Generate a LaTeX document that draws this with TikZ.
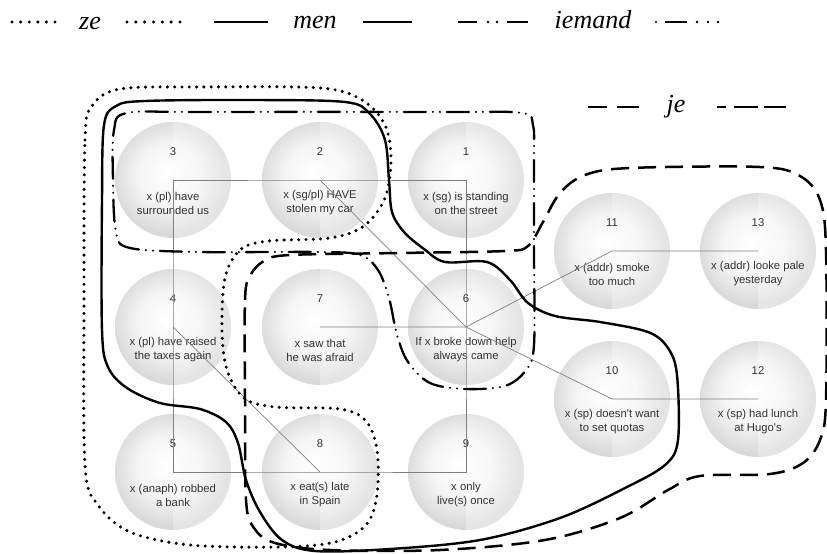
\documentclass[tikz,border=0pt]{standalone}
\usepackage{fontspec}
\setmainfont{Liberation Serif}
\setsansfont{Liberation Sans}
\usetikzlibrary{calc}

% soft grey sphere used for every statement
\pgfdeclareradialshading{orb}{\pgfpoint{-3bp}{3bp}}{color(0bp)=(white); color(13bp)=(black!4); color(25bp)=(black!15); color(50bp)=(black!15)}

\tikzset{
  orbnode/.style={circle, minimum size=116pt, inner sep=0pt, shading=orb},
  numtext/.style={font=\sffamily\fontsize{11.3}{13}\selectfont, text=black!80},
  captext/.style={font=\sffamily\fontsize{11.3}{14}\selectfont, text=black!80, align=center},
  link/.style={draw=black!50, line width=0.7pt},
  zeline/.style={line width=3.4pt, dash pattern=on 0pt off 7.3pt, line cap=round},
  menline/.style={line width=2.4pt},
  iemandline/.style={line width=2.3pt, line cap=round, dash pattern=on 22pt off 7pt on 0pt off 7pt on 0pt off 7pt},
  jeline/.style={line width=2.5pt, dash pattern=on 18pt off 9pt},
  legendline/.style={line width=2.7pt},
  legendtext/.style={font=\fontsize{26}{30}\selectfont\itshape, anchor=base, inner sep=0pt}
}

% name, x, y, number, caption
\newcommand\placeorb[5]{%
  \node[orbnode] (#1) at (#2,#3) {};
  \begin{scope}
    \clip ($(#1)+(0,-60)$) rectangle ($(#1)+(60,60)$);
    \fill[white, opacity=0.3] (#1) circle[radius=58pt];
  \end{scope}
  \node[numtext] (#1-num) at ($(#1)+(0,-28)$) {#4};
  \node[captext] (#1-txt) at ($(#1)+(0,23)$) {#5};
}

\begin{document}
\begin{tikzpicture}[x=1pt, y=-1pt]
\useasboundingbox[fill=white] (0,0) rectangle (827,554);

% statements
\placeorb{c3}{173}{180}{3}{x (pl) have\\surrounded us}
\placeorb{c2}{320}{180}{2}{x (sg/pl) HAVE\\stolen my car}
\placeorb{c1}{466}{180}{1}{x (sg) is standing\\on the street}
\placeorb{c4}{173}{327}{4}{x (pl) have raised\\the taxes again}
\placeorb{c7}{320}{327}{7}{x saw that\\he was afraid}
\placeorb{c6}{466}{327}{6}{If x broke down help\\always came}
\placeorb{c5}{173}{472}{5}{x (anaph) robbed\\a bank}
\placeorb{c8}{320}{472}{8}{x eat(s) late\\in Spain}
\placeorb{c9}{466}{472}{9}{x only\\live(s) once}
\placeorb{c11}{612}{251}{11}{x (addr) smoke\\too much}
\placeorb{c13}{758}{251}{13}{x (addr) looke pale\\yesterday}
\placeorb{c10}{612}{399}{10}{x (sp) doesn\textquotesingle t want\\to set quotas}
\placeorb{c12}{758}{399}{12}{x (sp) had lunch\\at Hugo\textquotesingle s}

% links between statements
\draw[link] (c3.center) -- (c2.center) -- (c1.center) -- (c6.center) -- (c9.center)
            -- (c8.center) -- (c5.center) -- (c4.center) -- cycle;
\draw[link] (c2.center) -- (c6.center);
\draw[link] (c4.center) -- (c8.center);
\draw[link] (c7.center) -- (c6.center) -- (c11.center) -- (c13.center);
\draw[link] (c6.center) -- (c10.center) -- (c12.center);

% ze
\draw[zeline] plot[smooth cycle, tension=0.55] coordinates {
  (84,300) (85,140) (92,106) (120,89) (200,87) (320,88) (362,100) (385,125)
  (391,160) (385,198) (364,226) (330,238) (268,241) (240,250) (225,278)
  (222,330) (227,370) (244,398) (275,407) (340,409) (366,421) (377,450)
  (377,495) (366,525) (335,542) (280,547) (190,545) (130,532) (98,505) (85,465)};

% men
\draw[menline] plot[smooth cycle, tension=0.55] coordinates {
  (102,330) (102,200) (104,125) (116,106) (145,101) (250,100) (345,102)
  (370,114) (385,140) (389,180) (392,212) (404,232) (424,249) (445,262)
  (487,262) (510,280) (528,303) (555,316) (600,322) (648,332) (668,348)
  (677,375) (678,440) (665,465) (625,488) (560,518) (480,540) (390,549)
  (315,551) (282,540) (260,512) (246,480) (238,443) (226,422) (200,409)
  (160,403) (127,388) (108,367)};

% iemand
\draw[iemandline] plot[smooth cycle, tension=0.55] coordinates {
  (113,180) (114,130) (127,113) (200,112) (450,112) (522,113) (533,125)
  (534,160) (534,250) (534,345) (526,370) (505,386) (465,389) (430,383)
  (408,362) (397,335) (389,298) (378,270) (360,255) (320,252) (200,252)
  (130,248) (116,232)};

% je
\draw[jeline] plot[smooth cycle, tension=0.55] coordinates {
  (245,400) (245,300) (250,276) (264,261) (290,255) (400,253) (505,251)
  (528,246) (543,222) (560,193) (585,175) (630,168) (760,167) (800,176)
  (820,200) (826,250) (826,400) (820,440) (803,463) (770,474) (700,476)
  (668,490) (620,518) (545,540) (440,550) (330,550) (275,543) (254,528)
  (246,500)};

% legend
\draw[legendline, line width=3.4pt, line cap=round, dash pattern=on 0pt off 8.6pt] (12,22) -- (55,22);
\node[legendtext] (lze) at (90,29) {ze};
\draw[legendline, line width=3.4pt, line cap=round, dash pattern=on 0pt off 8.83pt] (127,22) -- (180,22);

\draw[legendline] (214,22) -- (268,22);
\node[legendtext] (lmen) at (315,28) {men};
\draw[legendline] (363,22) -- (412,22);

\draw[legendline] (458,22) -- (477,22);
\fill (488,22) circle[radius=1.3pt] (497,22) circle[radius=1.3pt];
\draw[legendline] (507,22) -- (528,22);
\node[legendtext] (liemand) at (593,28) {iemand};
\fill (656,22) circle[radius=1.1pt];
\draw[legendline] (665,22) -- (687,22);
\fill (697,22) circle[radius=1.3pt] (708,22) circle[radius=1.3pt] (718,22) circle[radius=1.3pt];

\draw[legendline] (588,107) -- (607,107);
\draw[legendline] (617,107) -- (639,107);
\node[legendtext] (lje) at (676,112) {je};
\draw[legendline] (717,107) -- (726,107);
\draw[legendline] (734,107) -- (758,107);
\draw[legendline] (764,107) -- (786,107);
\end{tikzpicture}
\end{document}
